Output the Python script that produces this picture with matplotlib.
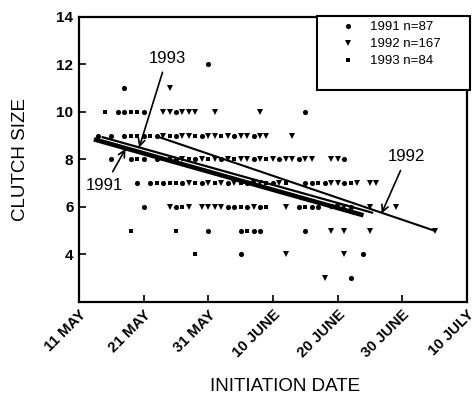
import matplotlib
matplotlib.use("Agg")
import matplotlib.pyplot as plt
from matplotlib.patches import Rectangle

plt.rcParams['font.family'] = ['Liberation Sans', 'DejaVu Sans']

# day 0 = 11 May
tick_days = [0, 10, 20, 30, 40, 50, 60]
tick_labels = ["11 MAY", "21 MAY", "31 MAY", "10 JUNE", "20 JUNE", "30 JUNE", "10 JULY"]

days_1991 = [20, 7, 6, 7, 10, 15, 35,
             3, 5, 7, 10, 12, 15, 19, 24, 27,
             5, 8, 10, 12, 15, 18, 22, 27, 31, 34, 41,
             9, 11, 13, 16, 19, 23, 26, 30, 35, 36, 38, 41,
             10, 15, 23, 24, 26, 28, 34, 36, 37, 42,
             20, 25, 27, 28, 35,
             25, 44,
             42]
sizes_1991 = [12, 11, 10, 10, 10, 10, 10,
              9, 9, 9, 9, 9, 9, 9, 9, 9,
              8, 8, 8, 8, 8, 8, 8, 8, 8, 8, 8,
              7, 7, 7, 7, 7, 7, 7, 7, 7, 7, 7, 7,
              6, 6, 6, 6, 6, 6, 6, 6, 6, 6,
              5, 5, 5, 5, 5,
              4, 4,
              3]

days_1992 = [14, 13, 14, 16, 17, 18, 21, 28,
             13, 16, 17, 20, 21, 23, 25, 26, 28, 29, 33,
             16, 19, 21, 23, 25, 26, 28, 30, 32, 33, 35, 36, 39, 40,
             17, 20, 22, 24, 27, 28, 31, 39, 40, 43, 45, 46,
             14, 17, 19, 20, 21, 22, 27, 32, 39, 40, 41, 45, 49,
             39, 41, 45, 55,
             32, 41,
             38]
sizes_1992 = [11, 10, 10, 10, 10, 10, 10, 10,
              9, 9, 9, 9, 9, 9, 9, 9, 9, 9, 9,
              8, 8, 8, 8, 8, 8, 8, 8, 8, 8, 8, 8, 8, 8,
              7, 7, 7, 7, 7, 7, 7, 7, 7, 7, 7, 7,
              6, 6, 6, 6, 6, 6, 6, 6, 6, 6, 6, 6, 6,
              5, 5, 5, 5,
              4, 4,
              3]

days_1993 = [4, 8, 9,
             8, 9, 11, 14, 18, 22,
             9, 13, 14, 17, 20, 24, 29,
             12, 14, 15, 18, 21, 25, 29, 32, 37, 42,
             16, 25, 29, 35,
             8, 15, 26,
             18]
sizes_1993 = [10, 10, 10,
              9, 9, 9, 9, 9, 9,
              8, 8, 8, 8, 8, 8, 8,
              7, 7, 7, 7, 7, 7, 7, 7, 7, 7,
              6, 6, 6, 6,
              5, 5, 5,
              4]

# fitted regression lines (end points)
line_1991 = ([2.3, 44.0], [8.85, 5.65])
line_1992 = ([12.3, 55.0], [8.95, 5.0])
line_1993 = ([3.5, 45.5], [8.95, 5.75])

fig = plt.figure(figsize=(4.74, 4.04), dpi=100)
ax = fig.add_axes([0.1667, 0.2525, 0.8183, 0.7055])

ax.plot(days_1991, sizes_1991, 'o', color='k', ms=3.7, mew=0, label="1991 n=87")
ax.plot(days_1992, sizes_1992, 'v', color='k', ms=4.0, mew=0, label="1992 n=167")
ax.plot(days_1993, sizes_1993, 's', color='k', ms=3.2, mew=0, label="1993 n=84")

ax.plot(line_1991[0], line_1991[1], color='k', lw=3.3, solid_capstyle='butt')
ax.plot(line_1993[0], line_1993[1], color='k', lw=1.6, solid_capstyle='butt')
ax.plot(line_1992[0], line_1992[1], color='k', lw=1.5, solid_capstyle='butt')

arrow = dict(arrowstyle='->', color='k', lw=1.2, mutation_scale=12, shrinkA=3, shrinkB=0)
ax.annotate("1993", xy=(9.3, 8.5), xytext=(13.6, 12.27), ha='center', va='center',
            fontsize=12, arrowprops=arrow)
ax.annotate("1991", xy=(7.2, 8.45), xytext=(4.0, 6.9), ha='center', va='center',
            fontsize=12, arrowprops=arrow)
ax.annotate("1992", xy=(46.8, 5.73), xytext=(50.7, 8.13), ha='center', va='center',
            fontsize=12, arrowprops=arrow)

ax.set_xlim(0, 60)
ax.set_ylim(2, 14)
ax.set_xticks(tick_days)
ax.set_xticklabels(tick_labels, rotation=45, ha='right', rotation_mode='anchor',
                   fontsize=10.8, fontweight='bold')
ax.set_yticks([4, 6, 8, 10, 12, 14])
ax.set_yticklabels(["4", "6", "8", "10", "12", "14"], fontsize=11, fontweight='bold')
ax.tick_params(direction='in', length=5, width=1.2, pad=4)
for s in ax.spines.values():
    s.set_linewidth(1.6)

ax.set_xlabel("INITIATION DATE", fontsize=13.5)
ax.xaxis.set_label_coords(0.53, -0.265)
ax.set_ylabel("CLUTCH SIZE", fontsize=13.5)
ax.yaxis.set_label_coords(-0.13, 0.5)

# legend box drawn by hand, entries without frame
box = Rectangle((0.613, 0.744), 0.395, 0.26, transform=ax.transAxes, facecolor='white',
                edgecolor='k', lw=1.5, clip_on=False, zorder=5)
ax.add_patch(box)
leg = ax.legend(loc='upper left', bbox_to_anchor=(0.672, 0.985), frameon=False,
                fontsize=9.5, handlelength=1.2, handletextpad=1.1,
                borderpad=0.0, labelspacing=0.36, borderaxespad=0)
leg.set_zorder(6)
for h in leg.legend_handles:
    h.set_linestyle('none')

fig.savefig("out.png", dpi=100)
